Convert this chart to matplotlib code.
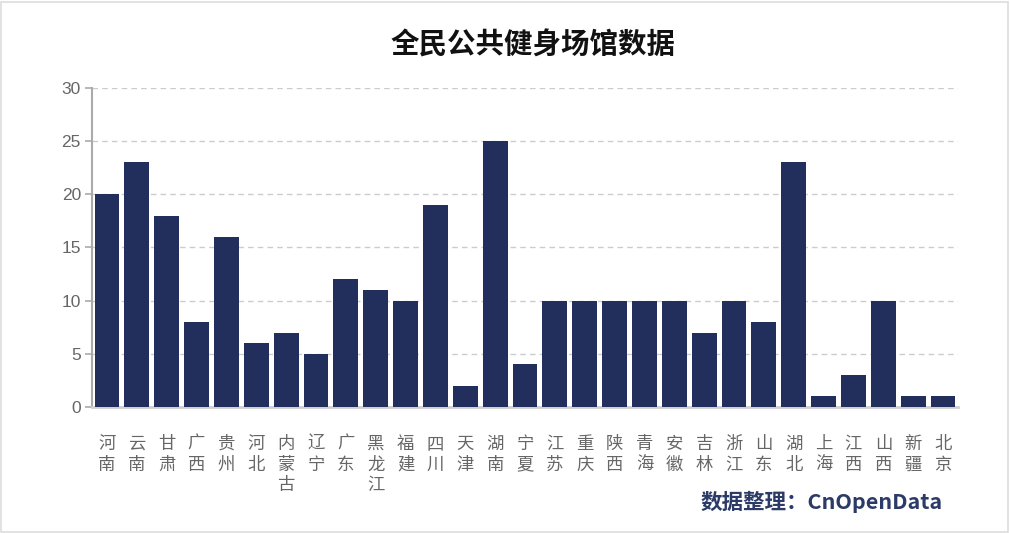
import matplotlib
matplotlib.use("Agg")
import matplotlib.pyplot as plt
from matplotlib.patches import Rectangle

plt.rcParams['font.family'] = ['Noto Sans CJK SC', 'DejaVu Sans']

provinces = ["河南", "云南", "甘肃", "广西", "贵州", "河北", "内蒙古", "辽宁", "广东", "黑龙江",
             "福建", "四川", "天津", "湖南", "宁夏", "江苏", "重庆", "陕西", "青海", "安徽",
             "吉林", "浙江", "山东", "湖北", "上海", "江西", "山西", "新疆", "北京"]
values = [20, 23, 18, 8, 16, 6, 7, 5, 12, 11,
          10, 19, 2, 25, 4, 10, 10, 10, 10, 10,
          7, 10, 8, 23, 1, 3, 10, 1, 1]
y_ticks = [0, 5, 10, 15, 20, 25, 30]

title = "全民公共健身场馆数据"
footer = "数据整理：CnOpenData"

bar_color = "#222e5c"
label_color = "#666666"

fig = plt.figure(figsize=(10.1, 5.33), dpi=100)
ax = fig.add_axes([0.0911, 0.2364, 0.8574, 0.5985])

x = list(range(len(provinces)))
ax.bar(x, values, width=0.83, color=bar_color, zorder=3)
ax.set_xlim(-0.5, len(provinces) - 0.5)
ax.set_ylim(0, 30)
ax.set_yticks(y_ticks)
ax.set_yticklabels([str(t) for t in y_ticks], color=label_color, fontsize=12.5,
                   family=['Liberation Sans', 'DejaVu Sans'])
ax.set_xticks(x)
ax.set_xticklabels(["\n".join(list(p)) for p in provinces], color=label_color,
                   fontsize=12.5, linespacing=1.2, va='top')
ax.tick_params(axis='x', length=0, pad=20)
ax.tick_params(axis='y', length=5, width=1.2, color="#aaaaaa", pad=3)

ax.grid(axis='y', color="#cccccc", linestyle=(0, (4, 3)), linewidth=1, zorder=0)
for s in ['top', 'right']:
    ax.spines[s].set_visible(False)
ax.spines['left'].set_color("#aaaaaa")
ax.spines['left'].set_linewidth(1.5)
ax.spines['bottom'].set_color("#d0d0d0")
ax.spines['bottom'].set_linewidth(2)

fig.text(0.528, 0.914, title, ha='center', va='center', fontsize=20.5,
         fontweight='bold', color="#111111")
fig.text(0.933, 0.058, footer, ha='right', va='center', fontsize=15.5,
         fontweight='bold', color="#2b3a67")

fig.add_artist(Rectangle((0.001, 0.002), 0.997, 0.995, transform=fig.transFigure,
                         fill=False, edgecolor="#dddddd", linewidth=1.2))

fig.savefig("out.png", dpi=100)
